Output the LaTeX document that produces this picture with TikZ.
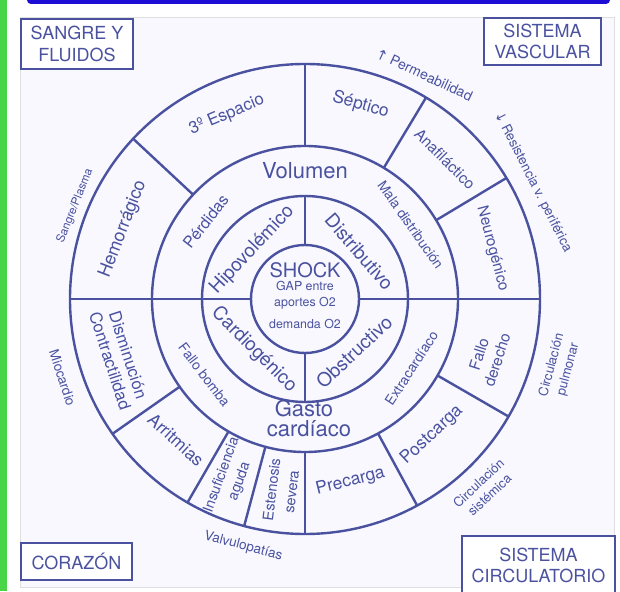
\documentclass[tikz,border=0pt]{standalone}
\usepackage{fontspec}
\setmainfont{TeX Gyre Heros}
\newfontfamily\arrowfont{DejaVu Sans}

\definecolor{shockblue}{RGB}{74,82,160}
\definecolor{paper}{RGB}{248,248,254}
\definecolor{screengreen}{RGB}{72,214,72}
\definecolor{screenblue}{RGB}{28,12,214}

\tikzset{
  wheel/.style={draw=shockblue, line width=2.4pt},
  corner/.style={draw=shockblue, line width=2.4pt, fill=white, align=center,
                 font=\fontsize{18}{21.5}\selectfont},
  hub/.style={font=\fontsize{12.4}{14}\selectfont, anchor=base},
  flow/.style={font=\fontsize{22}{20}\selectfont, anchor=base},
  kind/.style={font=\fontsize{19}{20}\selectfont},
  cause/.style={font=\fontsize{13.8}{16}\selectfont},
  sector/.style={font=\fontsize{17.4}{20}\selectfont, align=center},
  narrow/.style={font=\fontsize{15.3}{19}\selectfont, align=center},
  slim/.style={font=\fontsize{14.5}{20}\selectfont, align=center},
  note/.style={font=\fontsize{13.5}{16}\selectfont, align=center},
}

\begin{document}
\begin{tikzpicture}[x=1pt, y=1pt, text=shockblue, inner sep=0pt]
  \useasboundingbox (-305,-292) rectangle (315,299);
  % screen frame
  \fill[white] (-305,-292) rectangle (315,299);
  \fill[screengreen] (-305,-292) rectangle (-298,299);
  \fill[screenblue, rounded corners=4pt] (-278,295) rectangle (305,306);
  \fill[paper] (-285,-288) rectangle (309,282);
  \draw[gray!25, line width=0.8pt] (-285,-288) rectangle (309,282);

  % rings and dividers
  \draw[wheel] (0,0) circle (54pt) (0,0) circle (103pt)
               (0,0) circle (153pt) (0,0) circle (235pt);
  \foreach \a in {0,90,180,270} \draw[wheel] (\a:54) -- (\a:103);
  \foreach \a in {0,180} \draw[wheel] (\a:103) -- (\a:153);
  \foreach \a in {0,31,59,90,137,180,215,240,255,270,298.5,330}
    \draw[wheel] (\a:153) -- (\a:235);

  % corners
  \node[corner, minimum width=112pt, minimum height=50pt] (sangre) at (-228,255) {SANGRE Y\\FLUIDOS};
  \node[corner, minimum width=117pt, minimum height=47pt] (vascular) at (237.5,257.5) {SISTEMA\\VASCULAR};
  \node[corner, minimum width=111pt, minimum height=37pt] (corazon) at (-228.5,-262.5) {CORAZÓN};
  \node[corner, minimum width=153pt, minimum height=59pt] (circulatorio) at (233.5,-266.5) {SISTEMA\\CIRCULATORIO};

  % hub
  \node[font=\fontsize{20}{20}\selectfont, anchor=base] (shock) at (0,21.3) {SHOCK};
  \node[hub] (gap) at (0,8.3) {GAP entre};
  \node[hub] (aportes) at (0,-7.7) {aportes O2};
  \node[hub] (demanda) at (0,-29.3) {demanda O2};

  % types of shock
  \node[kind, rotate=47]  (hipo)   at (137:72) {Hipovolémico};
  \node[kind, rotate=-49] (distri) at (41:72)  {Distributivo};
  \node[kind, rotate=-45] (cardio) at (225:72) {Cardiogénico};
  \node[kind, rotate=43]  (obstr)  at (313:72) {Obstructivo};

  % middle ring
  \node[flow] (volumen) at (0,120.7) {Volumen};
  \node[flow] (gasto) at (-1,-117.7) {Gasto};
  \node[flow] (cardiaco) at (4,-137.7) {cardíaco};
  \node[cause, font=\fontsize{16}{16}\selectfont, rotate=52] (perdidas) at (142:126) {Pérdidas};
  \node[cause, rotate=-55] (mala)  at (35:129)  {Mala distribución};
  \node[cause, rotate=-53] (bomba) at (217:126) {Fallo bomba};
  \node[cause, rotate=57]  (extra) at (327:127) {Extracardíaco};

  % outer ring
  \node[sector, font=\fontsize{16.8}{20}\selectfont, rotate=23] (tercer) at (113:200) {3º Espacio};
  \node[sector, rotate=-16]   (septico)  at (74:202)    {Séptico};
  \node[narrow, rotate=-45]   (anafi)    at (45:198)    {Anafiláctico};
  \node[narrow, rotate=-75]   (neuro)    at (15:194)    {Neurogénico};
  \node[narrow, rotate=72]    (derecho)  at (-17.6:192) {Fallo\\derecho};
  \node[sector, rotate=43]    (post)     at (-47:186)   {Postcarga};
  \node[sector, rotate=14]    (pre)      at (-76:188)   {Precarga};
  \node[slim, rotate=83]      (esteno)   at (263:193)   {Estenosis\\severa};
  \node[slim, font=\fontsize{14.3}{19}\selectfont, rotate=70] (insuf) at (247.5:194) {Insuficiencia\\aguda};
  \node[sector, rotate=-42.5] (arritmia) at (227.5:191) {Arritmias};
  \node[sector, font=\fontsize{16.6}{19}\selectfont, rotate=-72] (dismin) at (197.6:195) {Disminución\\Contractilidad};
  \node[sector, font=\fontsize{18}{20}\selectfont, rotate=69] (hemo) at (159:195) {Hemorrágico};

  % notes outside
  \node[note, font=\fontsize{14}{16}\selectfont, rotate=-25] (permea) at (62:254) {{\arrowfont ↑} Permeabilidad};
  \node[note, font=\fontsize{13.3}{16}\selectfont, rotate=-63] (resist) at (27.2:256) {{\arrowfont ↓} Resistencia v. periférica};
  \node[note, font=\fontsize{13}{17}\selectfont, rotate=75] (pulmo) at (-15:264) {Circulación\\pulmonar};
  \node[note, font=\fontsize{13}{16}\selectfont, rotate=43] (siste) at (-46.7:261) {Circulación\\sistémica};
  \node[note, rotate=-15] (valvu)  at (256:255) {Valvulopatías};
  \node[note, rotate=-72] (mio)    at (198:255) {Miocardio};
  \node[note, font=\fontsize{11.5}{12}\selectfont, rotate=68] (plasma) at (158:248) {Sangre/Plasma};
\end{tikzpicture}
\end{document}
